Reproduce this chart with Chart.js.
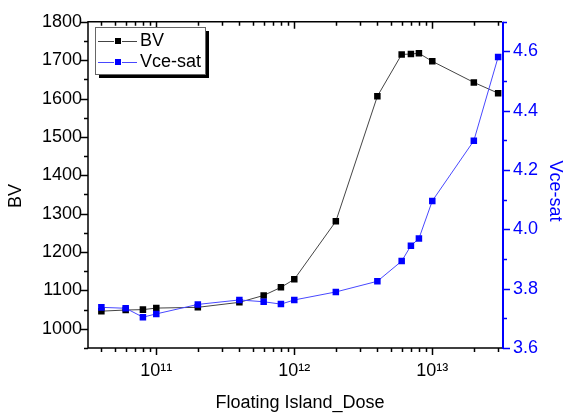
<!DOCTYPE html>
<html lang="en">
<head>
<meta charset="UTF-8" />
<title>BV and Vce-sat vs Floating Island dose</title>
<script src="https://cdn.jsdelivr.net/npm/chart.js@4.4.1/dist/chart.umd.min.js"></script>
<style>
  body { margin: 0; background: #fff; }
  #wrap { width: 564px; height: 417px; }
</style>
</head>
<body>
<div id="wrap"><canvas id="myChart"></canvas></div>
<script>
// data
const doses = [4e10, 6e10, 8e10, 1e11, 2e11, 4e11, 6e11, 8e11, 1e12, 2e12, 4e12, 6e12, 7e12, 8e12, 1e13, 2e13, 3e13];
const bvValues = [1046, 1049, 1050, 1054, 1056, 1069, 1087, 1108, 1129, 1280, 1606, 1715, 1716, 1718, 1697, 1642, 1614];
const vceValues = [3.737, 3.734, 3.704, 3.715, 3.747, 3.762, 3.756, 3.748, 3.762, 3.789, 3.825, 3.893, 3.945, 3.969, 4.096, 4.299, 4.581];

const seriesNames = ['BV', 'Vce-sat'];
const xMajorTicks = [1e11, 1e12, 1e13];
const xTickLabels = ['10\u00b9\u00b9', '10\u00b9\u00b2', '10\u00b9\u00b3'];
const xTitle = 'Floating Island_Dose';

const FONT = '"Liberation Sans", Arial, sans-serif';
const BLUE = '#0000ff';

function isDecade(v) {
  const l = Math.log10(v);
  return Math.abs(l - Math.round(l)) < 1e-9;
}

// tick marks, box and the blue right axis
const framePlugin = {
  id: 'frame',
  afterDraw(chart) {
    const { ctx, chartArea: a, scales } = chart;
    ctx.save();
    ctx.lineWidth = 1.5;
    ctx.strokeStyle = '#000';
    ctx.beginPath();
    ctx.moveTo(a.right, a.top); ctx.lineTo(a.left, a.top);
    ctx.lineTo(a.left, a.bottom); ctx.lineTo(a.right, a.bottom);
    ctx.stroke();

    ctx.beginPath();
    scales.x.ticks.forEach(t => {
      const px = Math.round(scales.x.getPixelForValue(t.value)) + 0.5;
      const len = isDecade(t.value) ? 7 : 4;
      ctx.moveTo(px, a.bottom); ctx.lineTo(px, a.bottom + len);
      ctx.moveTo(px, a.top); ctx.lineTo(px, a.top + len);
    });
    scales.y.ticks.forEach(t => {
      const py = Math.round(scales.y.getPixelForValue(t.value)) + 0.5;
      const len = t.value % 100 === 0 ? 7 : 4;
      ctx.moveTo(a.left, py); ctx.lineTo(a.left - len, py);
    });
    ctx.stroke();

    ctx.strokeStyle = BLUE;
    ctx.lineWidth = 2;
    ctx.beginPath();
    ctx.moveTo(a.right + 1, a.top); ctx.lineTo(a.right + 1, a.bottom + 1);
    ctx.stroke();
    ctx.lineWidth = 1.5;
    ctx.beginPath();
    scales.y2.ticks.forEach(t => {
      const py = Math.round(scales.y2.getPixelForValue(t.value)) + 0.5;
      const len = Math.round(t.value * 10) % 2 === 0 ? 7 : 4;
      ctx.moveTo(a.right + 1, py); ctx.lineTo(a.right + 1 + len, py);
    });
    ctx.stroke();
    ctx.restore();
  }
};

// axis titles
const titlePlugin = {
  id: 'titles',
  afterDraw(chart) {
    const { ctx } = chart;
    ctx.save();
    ctx.font = '18px ' + FONT;
    ctx.textAlign = 'center';
    ctx.textBaseline = 'middle';
    ctx.fillStyle = '#000';
    ctx.fillText(xTitle, 300, 403);

    ctx.save();
    ctx.translate(16, 196);
    ctx.rotate(-Math.PI / 2);
    ctx.fillText(seriesNames[0], 0, 0);
    ctx.restore();

    ctx.save();
    ctx.fillStyle = BLUE;
    ctx.translate(555, 191);
    ctx.rotate(Math.PI / 2);
    ctx.fillText(seriesNames[1], 0, 0);
    ctx.restore();
    ctx.restore();
  }
};

// boxed legend in the upper left corner
const legendPlugin = {
  id: 'boxLegend',
  afterDraw(chart) {
    const { ctx } = chart;
    const x = 95, y = 27, w = 110, h = 47;
    ctx.save();
    ctx.fillStyle = '#000';
    ctx.fillRect(x + 4, y + 4, w, h);
    ctx.fillStyle = '#fff';
    ctx.fillRect(x, y, w, h);
    ctx.strokeStyle = '#666';
    ctx.lineWidth = 1;
    ctx.strokeRect(x + 0.5, y + 0.5, w, h);

    ctx.font = '18px ' + FONT;
    ctx.textBaseline = 'middle';
    chart.data.datasets.forEach((ds, i) => {
      const cy = y + 14 + i * 21;
      ctx.strokeStyle = ds.borderColor;
      ctx.lineWidth = 1;
      ctx.beginPath();
      ctx.moveTo(x + 3, cy + 0.5); ctx.lineTo(x + 19, cy + 0.5);
      ctx.moveTo(x + 27, cy + 0.5); ctx.lineTo(x + 42, cy + 0.5);
      ctx.stroke();
      ctx.fillStyle = ds.pointBackgroundColor;
      ctx.fillRect(x + 20, cy - 3, 6, 6);
      ctx.fillStyle = '#000';
      ctx.fillText(ds.label, x + 45, cy);
    });
    ctx.restore();
  }
};

chartIt();
function chartIt() {
  const ctx = document.getElementById('myChart').getContext('2d');
  new Chart(ctx, {
    type: 'line',
    data: {
      datasets: [{
        label: seriesNames[0],
        data: doses.map((d, i) => ({ x: d, y: bvValues[i] })),
        yAxisID: 'y',
        order: 1,
        borderColor: '#444',
        borderWidth: 1,
        pointStyle: 'rect',
        pointRadius: 4.6,
        pointBorderWidth: 0,
        pointBackgroundColor: '#000',
        pointBorderColor: '#000',
        tension: 0
      }, {
        label: seriesNames[1],
        data: doses.map((d, i) => ({ x: d, y: vceValues[i] })),
        yAxisID: 'y2',
        order: 0,
        borderColor: '#4848ff',
        borderWidth: 1,
        pointStyle: 'rect',
        pointRadius: 4.6,
        pointBorderWidth: 0,
        pointBackgroundColor: BLUE,
        pointBorderColor: BLUE,
        tension: 0
      }]
    },
    options: {
      responsive: true,
      maintainAspectRatio: false,
      animation: false,
      layout: { padding: { top: 17, left: 0, right: 0, bottom: 0 } },
      plugins: { legend: { display: false }, tooltip: { enabled: false } },
      scales: {
        x: {
          type: 'logarithmic',
          position: 'bottom',
          min: 3.2e10,
          max: 3.2e13,
          bounds: 'data',
          grid: { display: false, drawTicks: false },
          border: { display: false },
          afterBuildTicks(scale) {
            const ticks = [];
            for (let d = 10; d <= 13; d++) {
              for (let k = 1; k <= 9; k++) {
                const v = k * Math.pow(10, d);
                if (v >= scale.min && v <= scale.max) ticks.push({ value: v });
              }
            }
            scale.ticks = ticks;
          },
          afterFit(scale) { scale.height = 69; },
          ticks: {
            autoSkip: false,
            maxRotation: 0,
            padding: 12,
            color: '#000',
            font: { family: FONT, size: 18 },
            callback(value) {
              const i = xMajorTicks.findIndex(m => Math.abs(m - value) / m < 1e-9);
              return i >= 0 ? xTickLabels[i] : '';
            }
          }
        },
        y: {
          type: 'linear',
          position: 'left',
          min: 950,
          max: 1800,
          grid: { display: false, drawTicks: false },
          border: { display: false },
          afterFit(scale) { scale.width = 88; },
          ticks: {
            stepSize: 50,
            autoSkip: false,
            padding: 6,
            color: '#000',
            font: { family: FONT, size: 18 },
            callback(value) {
              return value % 100 === 0 && value >= 1000 ? String(value) : '';
            }
          }
        },
        y2: {
          type: 'linear',
          position: 'right',
          min: 3.6,
          max: 4.7,
          grid: { display: false, drawTicks: false },
          border: { display: false },
          afterFit(scale) { scale.width = 62; },
          ticks: {
            stepSize: 0.1,
            autoSkip: false,
            padding: 11,
            color: BLUE,
            font: { family: FONT, size: 18 },
            callback(value) {
              return Math.round(value * 10) % 2 === 0 ? value.toFixed(1) : '';
            }
          }
        }
      }
    },
    plugins: [framePlugin, legendPlugin, titlePlugin]
  });
}
</script>
</body>
</html>
